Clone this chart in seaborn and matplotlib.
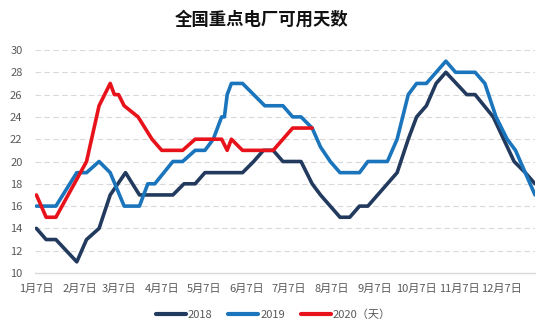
import matplotlib
matplotlib.use("Agg")
import matplotlib.pyplot as plt
import pandas as pd
import seaborn as sns

# ---- data (dates mapped onto one calendar year) ----
dates_2018 = ["01-07", "01-14", "01-21", "02-05", "02-12", "02-21", "03-01", "03-12",
              "03-22", "04-15", "04-23", "05-01", "05-08", "06-04", "06-12", "06-19",
              "06-26", "07-03", "07-16", "07-24", "07-30", "08-13", "08-20", "08-27",
              "09-02", "09-23", "10-01", "10-07", "10-14", "10-21", "10-28", "11-12",
              "11-18", "12-01", "12-16", "12-24", "12-31"]
values_2018 = [14, 13, 13, 11, 13, 14, 17, 19,
               17, 17, 18, 18, 19, 19, 20, 21,
               21, 20, 20, 18, 17, 15, 15, 16,
               16, 19, 22, 24, 25, 27, 28, 26,
               26, 24, 20, 19, 18]

dates_2019 = ["01-07", "01-21", "02-05", "02-12", "02-21", "03-01", "03-11", "03-22",
              "03-28", "04-02", "04-15", "04-22", "05-01", "05-08", "05-14", "05-20",
              "05-22", "05-24", "05-27", "06-04", "06-12", "06-20", "07-03", "07-10",
              "07-16", "07-24", "07-30", "08-06", "08-13", "08-27", "09-02", "09-16",
              "09-23", "10-01", "10-07", "10-14", "10-21", "10-28", "11-04", "11-18",
              "11-25", "12-03", "12-11", "12-17", "12-31"]
values_2019 = [16, 16, 19, 19, 20, 19, 16, 16,
               18, 18, 20, 20, 21, 21, 22, 24,
               24, 26, 27, 27, 26, 25, 25, 24,
               24, 23, 21.3, 20, 19, 19, 20, 20,
               22, 26, 27, 27, 28, 29, 28, 28,
               27, 24, 22, 21, 17]

dates_2020 = ["01-07", "01-14", "01-21", "02-12", "02-21", "03-01", "03-04", "03-07",
              "03-11", "03-21", "03-31", "04-07", "04-22", "05-01", "05-20", "05-24",
              "05-27", "06-04", "06-26", "07-10", "07-24"]
values_2020 = [17, 15, 15, 20, 25, 27, 26, 26,
               25, 24, 22, 21, 21, 22, 22, 21,
               22, 21, 21, 23, 23]

series_names = ["2018", "2019", "2020（天）"]
series_colors = ["#223A5E", "#1B75BC", "#E8121A"]
tick_months = list(range(1, 13))
tick_labels = [f"{m}月7日" for m in tick_months]
title_text = "全国重点电厂可用天数"

# ---- build long table ----
frames = []
for name, ds, vs in zip(series_names, [dates_2018, dates_2019, dates_2020],
                        [values_2018, values_2019, values_2020]):
    frames.append(pd.DataFrame({
        "date": pd.to_datetime(["2019-" + d for d in ds]),
        "value": vs,
        "series": name,
    }))
df = pd.concat(frames, ignore_index=True)

sns.set_theme(style="white")
plt.rcParams["font.family"] = ["Noto Sans CJK SC", "DejaVu Sans"]

fig = plt.figure(figsize=(5.5, 3.34), dpi=100)
ax = fig.add_axes([35 / 550, 1 - 273 / 334, 500 / 550, 223 / 334])

sns.lineplot(data=df, x="date", y="value", hue="series", hue_order=series_names,
             palette=dict(zip(series_names, series_colors)), linewidth=2.6,
             ax=ax, legend=False, sort=True, estimator=None)

ax.set_ylim(10, 30)
ax.set_yticks(range(10, 31, 2))
ax.set_xlim(pd.Timestamp("2019-01-06"), pd.Timestamp("2019-12-31"))
ax.set_xticks([pd.Timestamp(f"2019-{m:02d}-07") for m in tick_months])
ax.set_xticklabels(tick_labels)
ax.set_xlabel("")
ax.set_ylabel("")

for y in range(12, 31, 2):
    ax.axhline(y, color="#D9D9D9", lw=0.8, ls=(0, (5, 3)), zorder=0)

for s in ["left", "right", "top"]:
    ax.spines[s].set_visible(False)
ax.spines["bottom"].set_color("#D9D9D9")
ax.spines["bottom"].set_linewidth(1.0)

ax.tick_params(axis="y", length=0, pad=9, labelsize=8, labelcolor="#595959")
ax.tick_params(axis="x", length=0, pad=8, labelsize=8, labelcolor="#595959")

fig.text(262 / 550, 0.94, title_text, ha="center", va="center", fontsize=12.5,
         fontweight="bold", color="#111111")

handles = [plt.Line2D([], [], color=c, lw=3) for c in series_colors]
fig.legend(handles, series_names, loc="center", bbox_to_anchor=(0.497, 1 - 315 / 334),
           ncol=3, frameon=False, fontsize=8, handlelength=2.7, handletextpad=0.2,
           columnspacing=1.4, labelcolor="#595959")

fig.savefig("out.png", dpi=100)
